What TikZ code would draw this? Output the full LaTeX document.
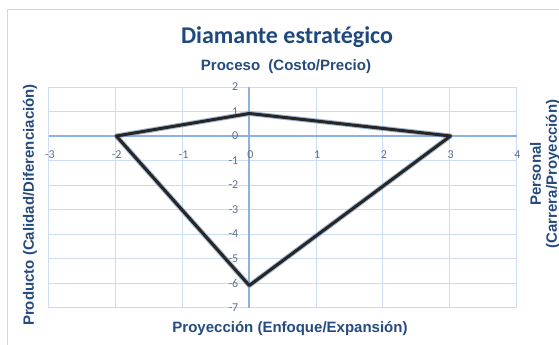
\documentclass[tikz,border=0pt]{standalone}
\usepackage{fontspec}
\setmainfont{Liberation Sans}
\newfontfamily\carlito{Carlito}
\definecolor{titlecol}{HTML}{1F497D}
\definecolor{labcol}{HTML}{264B7E}
\definecolor{tickcol}{HTML}{5E6F92}
\definecolor{gridcol}{HTML}{CCDCF2}
\definecolor{axiscol}{HTML}{8EB2E0}
\definecolor{framecol}{HTML}{C9D8EE}
\definecolor{linecol}{HTML}{262626}
\definecolor{glowcol}{HTML}{7D98BD}
\tikzset{
  gridline/.style={draw=gridcol, line width=1},
  axisline/.style={draw=axiscol, line width=1.8},
  ticklab/.style={text=tickcol, font=\carlito\fontsize{12}{12}\selectfont, inner sep=0},
  axtitle/.style={text=labcol, font=\bfseries\fontsize{15}{16}\selectfont, inner sep=0, align=center},
  maintitle/.style={text=titlecol, font=\carlito\bfseries\fontsize{24}{24}\selectfont, inner sep=0},
  glow/.style={draw=glowcol, line width=5, line join=round, opacity=0.7},
  diam/.style={draw=linecol, line width=3, line join=round}
}
\begin{document}
\begin{tikzpicture}[x=1pt,y=-1pt]
\useasboundingbox (0,0) rectangle (559,345);
\fill[white] (0,0) rectangle (559,345);
\begin{scope}
  \clip (0,0) rectangle (559,345);
  \draw[framecol, line width=1] (7.5,9.5) rectangle (600,400);
\end{scope}
% grid
\foreach \i in {-3,...,4} \draw[gridline] ({249.3+66.8*\i},87) -- ({249.3+66.8*\i},307.5);
\foreach \j in {-7,...,2} \draw[gridline] (48.9,{136-24.5*\j}) -- (516.9,{136-24.5*\j});
\draw[axisline] (48.9,136) -- (516.9,136);
\draw[axisline] (249.3,87) -- (249.3,307.5);
% tick labels
\foreach \i [count=\k] in {-3,-2,-1,0,1,2,3,4}
  \node[ticklab] (xt\k) at ({249.3+66.8*\i+1},155) {\i};
\foreach \j [count=\k] in {2,1,0,-1,-2,-3,-4,-5,-6,-7}
  \node[ticklab, anchor=east] (yt\k) at (238.5,{136-24.5*\j}) {\j};
% diamond
\coordinate (pL) at (116.3,136);
\coordinate (pT) at (249.3,113.5);
\coordinate (pR) at (450.5,136);
\coordinate (pB) at (249.3,285.5);
\draw[glow] (pL) -- (pT) -- (pR) -- (pB) -- cycle;
\draw[diam] (pL) -- (pT) -- (pR) -- (pB) -- cycle;
% titles
\node[maintitle] (title) at (287,37) {Diamante estratégico};
\node[axtitle] (top) at (286,67) {Proceso\ \ (Costo/Precio)};
\node[axtitle] (bottom) at (290,329) {Proyección (Enfoque/Expansión)};
\node[axtitle, rotate=90] (left) at (30,205) {Producto (Calidad/Diferenciación)};
\node[axtitle, rotate=90] (right) at (545,174) {Personal\\(Carrera/Proyección)};
\end{tikzpicture}
\end{document}
